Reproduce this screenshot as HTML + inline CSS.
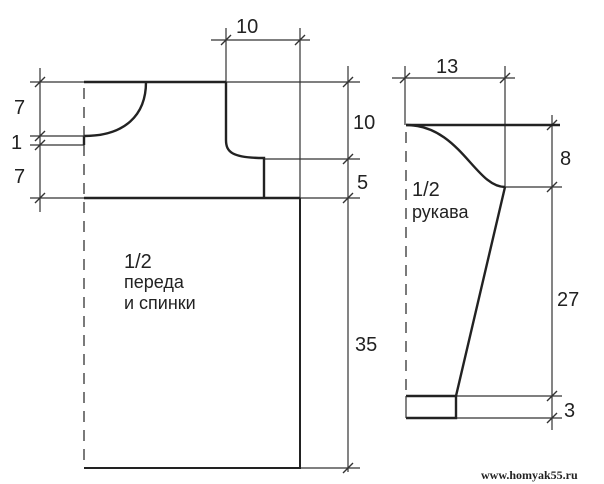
<!DOCTYPE html>
<html><head><style>body{margin:0;background:#fff}svg{display:block}text{font-family:"Liberation Sans",sans-serif;fill:#222}</style></head><body>
<svg width="604" height="484" viewBox="0 0 604 484">
<g stroke="#333" stroke-width="1.2" fill="none">
<line x1="40" y1="68" x2="40" y2="212"/>
<line x1="30" y1="82" x2="360" y2="82"/>
<line x1="30" y1="198" x2="360" y2="198"/>
<line x1="30" y1="136" x2="84" y2="136"/>
<line x1="30" y1="145" x2="84" y2="145"/>
<line x1="264" y1="159" x2="360" y2="159"/>
<line x1="348" y1="66" x2="348" y2="472"/>
<line x1="211" y1="40" x2="310" y2="40"/>
<line x1="226" y1="28" x2="226" y2="82"/>
<line x1="300" y1="28" x2="300" y2="198"/>
<line x1="300" y1="468" x2="360" y2="468"/>
<g stroke-width="1.4">
<path d="M35 87L45 77M35 141L45 131M35 150L45 140M35 203L45 193M221 45L231 35M295 45L305 35M343 87L353 77M343 164L353 154M343 203L353 193M343 473L353 463"/>
<path d="M400 83L410 73M500 83L510 73M547 130L557 120M547 192L557 182M547 401L557 391M547 423L557 413"/>
</g>
<line x1="392" y1="78" x2="515" y2="78"/>
<line x1="405" y1="66" x2="405" y2="125"/>
<line x1="505" y1="66" x2="505" y2="187"/>
<line x1="552" y1="115" x2="552" y2="430"/>
<line x1="505" y1="187" x2="562" y2="187"/>
<line x1="456" y1="396" x2="562" y2="396"/>
<line x1="456" y1="418" x2="562" y2="418"/>
</g>
<g stroke="#222" stroke-width="2.4" fill="none">
<line x1="84" y1="82" x2="226" y2="82"/>
<path d="M146 82C146 115 125 136 84 136"/>
<path d="M84 136V145"/>
<path d="M226 82V140C226 152 232 158 264 158V198"/>
<line x1="84" y1="198" x2="300" y2="198"/>
<path d="M300 198V468H84" stroke-width="2"/>
<line x1="406" y1="125" x2="560" y2="125"/>
<path d="M406 125C460 125 475 187 505 187"/>
<line x1="505" y1="187" x2="456" y2="396"/>
<path d="M406 396H456V418H406"/>
</g>
<g stroke="#333" stroke-width="1.3" stroke-dasharray="11,8">
<line x1="84" y1="88" x2="84" y2="468"/>
<line x1="406" y1="132" x2="406" y2="392"/>
</g>
<line x1="406" y1="396" x2="406" y2="418" stroke="#333" stroke-width="1.2"/>
<g font-size="20">
<text x="236" y="33">10</text>
<text x="14" y="114">7</text>
<text x="11" y="149">1</text>
<text x="14" y="183">7</text>
<text x="353" y="129">10</text>
<text x="357" y="189">5</text>
<text x="355" y="351">35</text>
<text x="436" y="73">13</text>
<text x="560" y="165">8</text>
<text x="557" y="306">27</text>
<text x="564" y="417">3</text>
<text x="124" y="268">1/2</text>
<text x="412" y="196">1/2</text>
</g>
<g font-size="18">
<text x="124" y="288">переда</text>
<text x="124" y="309">и спинки</text>
<text x="412" y="218">рукава</text>
</g>
<text x="481" y="479" font-size="12" font-weight="bold" style="font-family:'Liberation Serif',serif">www.homyak55.ru</text>
</svg>
</body></html>
